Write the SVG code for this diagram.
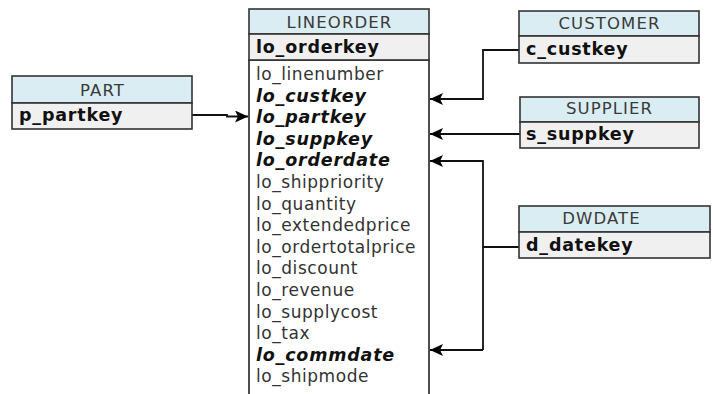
<svg xmlns="http://www.w3.org/2000/svg" width="713" height="394" viewBox="0 0 713 394">
<defs>
<style>
.hdr{fill:#daedf2;stroke:#333;stroke-width:1.6}
.key{fill:#f0f0f0;stroke:#333;stroke-width:1.6}
.body{fill:#fff;stroke:#222;stroke-width:1.6}
.ht{font-family:"DejaVu Sans",Verdana,sans-serif;font-size:16.5px;letter-spacing:1.1px;fill:#3a3a3a;text-anchor:middle}
.kt{font-family:"DejaVu Sans",Verdana,sans-serif;font-size:17.5px;letter-spacing:0.8px;font-weight:bold;fill:#111}
.rt{font-family:"DejaVu Sans",Verdana,sans-serif;font-size:17px;letter-spacing:0.55px;fill:#333}
.ft{font-family:"DejaVu Sans",Verdana,sans-serif;font-size:17.5px;letter-spacing:0.8px;fill:#111;font-weight:bold;font-style:italic}
.cn{fill:none;stroke:#111;stroke-width:1.8}
</style>
<marker id="ah" markerUnits="userSpaceOnUse" markerWidth="14" markerHeight="14" refX="13" refY="6" orient="auto">
<path d="M0,0 L13,6 L0,12 L3,6 Z" fill="#000"/>
</marker>
</defs>
<g id="connectors">
<path class="cn" d="M519,50 H483 V99 H430" marker-end="url(#ah)"/>
<path class="cn" d="M520,134 H430" marker-end="url(#ah)"/>
<path class="cn" d="M519,247 H483"/>
<path class="cn" d="M483,350 V161 H430" marker-end="url(#ah)"/>
<path class="cn" d="M483,350 H430" marker-end="url(#ah)"/>
<path class="cn" d="M192,115 H227 V116.5 H248" marker-end="url(#ah)"/>
</g>
<g id="lineorder">
<rect class="body" x="249" y="60" width="180" height="340"/>
<rect class="hdr" x="249" y="9" width="180" height="25"/>
<rect class="key" x="249" y="34" width="180" height="26"/>
<text class="ht" x="339.5" y="28">LINEORDER</text>
<text class="kt" x="256" y="53">lo_orderkey</text>
<text class="rt" x="256" y="80">lo_linenumber</text>
<text class="ft" x="256" y="101.6">lo_custkey</text>
<text class="ft" x="256" y="123.2">lo_partkey</text>
<text class="ft" x="256" y="144.8">lo_suppkey</text>
<text class="ft" x="256" y="166.4">lo_orderdate</text>
<text class="rt" x="256" y="188">lo_shippriority</text>
<text class="rt" x="256" y="209.6">lo_quantity</text>
<text class="rt" x="256" y="231.2">lo_extendedprice</text>
<text class="rt" x="256" y="252.8">lo_ordertotalprice</text>
<text class="rt" x="256" y="274.4">lo_discount</text>
<text class="rt" x="256" y="296">lo_revenue</text>
<text class="rt" x="256" y="317.6">lo_supplycost</text>
<text class="rt" x="256" y="339.2">lo_tax</text>
<text class="ft" x="256" y="360.8">lo_commdate</text>
<text class="rt" x="256" y="382.4">lo_shipmode</text>
</g>
<g id="part">
<rect class="hdr" x="12" y="76" width="180" height="27"/>
<rect class="key" x="12" y="103" width="180" height="26"/>
<text class="ht" x="102.5" y="96">PART</text>
<text class="kt" x="19" y="121">p_partkey</text>
</g>
<g id="customer">
<rect class="hdr" x="519" y="11" width="180" height="25"/>
<rect class="key" x="519" y="36" width="180" height="27"/>
<text class="ht" x="609.5" y="29">CUSTOMER</text>
<text class="kt" x="526" y="55">c_custkey</text>
</g>
<g id="supplier">
<rect class="hdr" x="520" y="97" width="179" height="25"/>
<rect class="key" x="520" y="122" width="179" height="26"/>
<text class="ht" x="609.5" y="114">SUPPLIER</text>
<text class="kt" x="526" y="140">s_suppkey</text>
</g>
<g id="dwdate">
<rect class="hdr" x="519" y="206" width="191" height="26"/>
<rect class="key" x="519" y="232" width="191" height="26"/>
<text class="ht" x="601.5" y="224">DWDATE</text>
<text class="kt" x="526" y="250.5">d_datekey</text>
</g>
</svg>
